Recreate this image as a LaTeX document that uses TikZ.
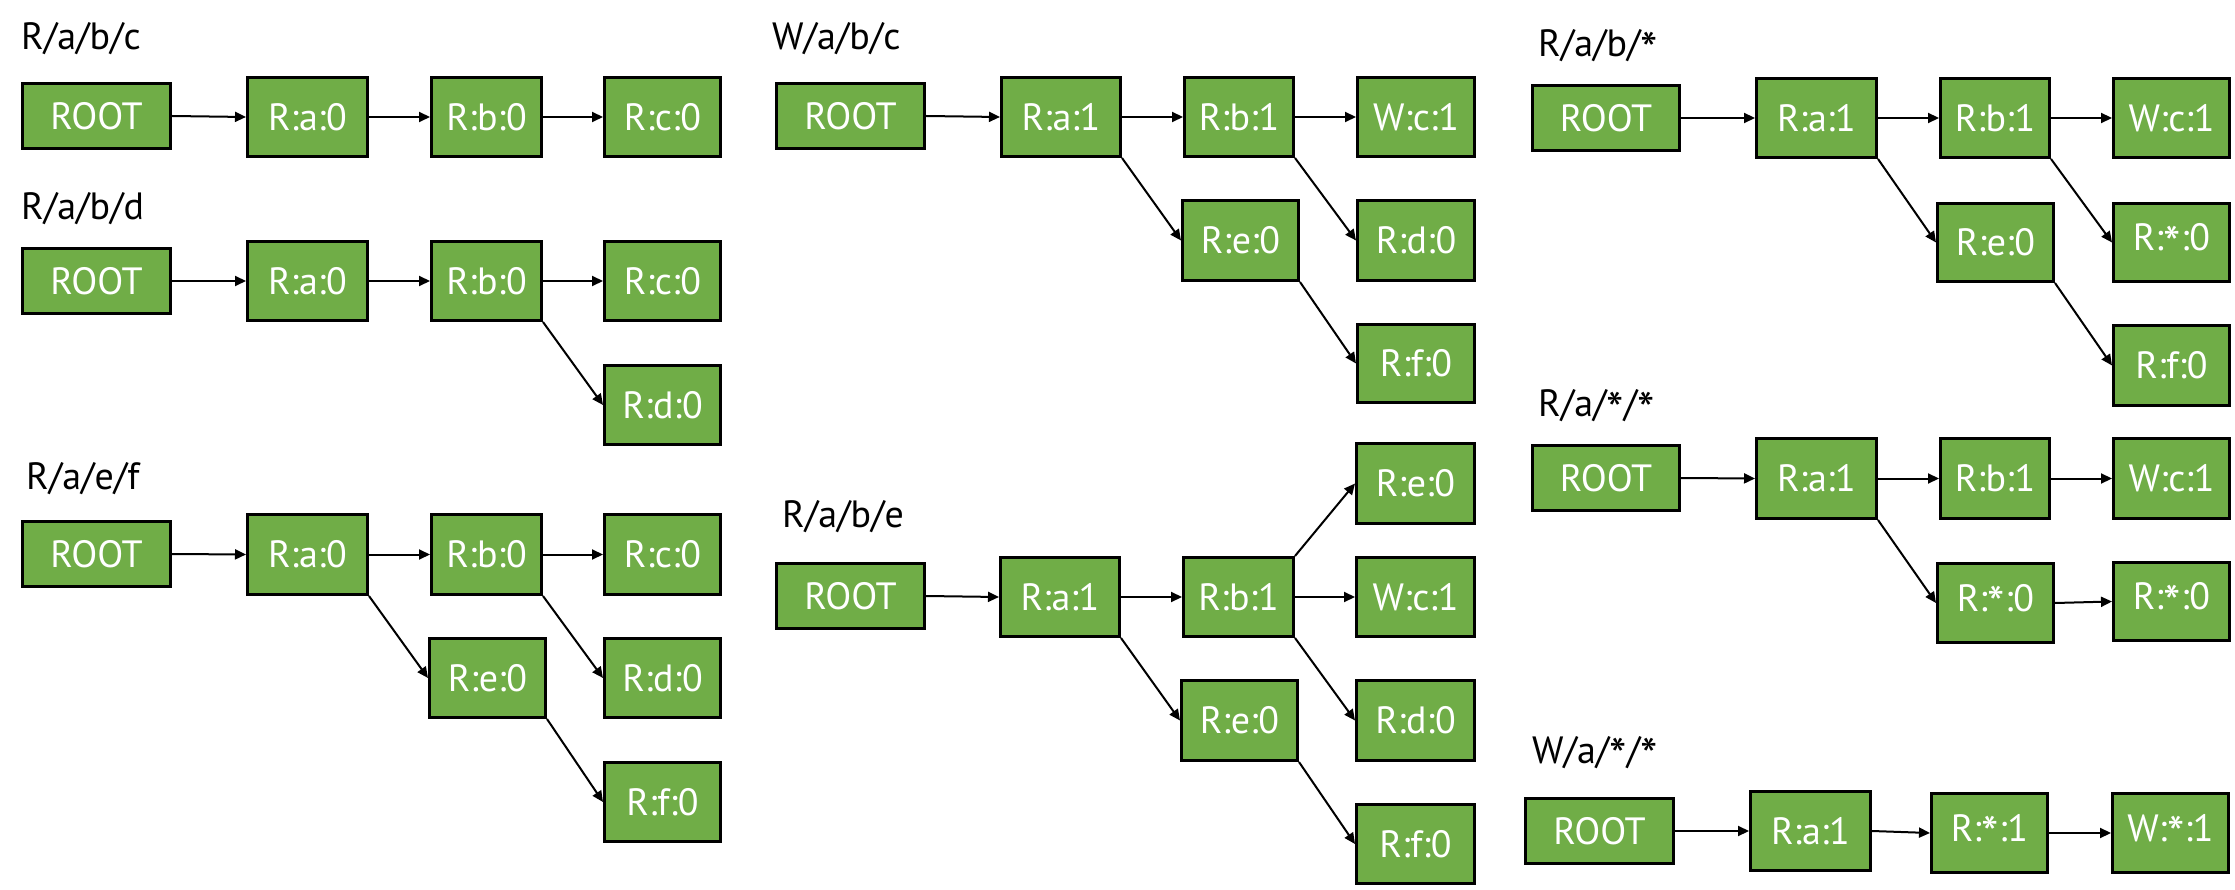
\documentclass[tikz,border=0pt]{standalone}
\usepackage{fontspec}
\setmainfont{PT Sans}
\usetikzlibrary{arrows.meta}
\definecolor{boxgreen}{RGB}{112,173,71}
\newcommand\stx{\raisebox{-0.28em}{\scalebox{1.3}{*}}}
\tikzset{
  box/.style={draw=black, line width=3pt, fill=boxgreen, text=white, inner sep=0pt,
    font=\fontsize{38}{40}\selectfont},
  lbl/.style={anchor=base west, inner sep=0pt, text=black, font=\fontsize{38}{40}\selectfont},
  arr/.style={line width=2pt, -{Triangle[length=11pt,width=10pt]}}
}
\newcommand\bx[6]{\node[box,minimum width={#4-#2-3},minimum height={#5-#3-3}] (#1) at ({(#2+#4)/2},{(#3+#5)/2}) {#6};}
\begin{document}
\begin{tikzpicture}[x=1pt,y=-1pt]
\useasboundingbox (0,0) rectangle (2235,890);
% Panel 1
\node[lbl] (l1) at (21,50) {R/a/b/c};
\bx{p1root}{21}{82}{172}{150}{ROOT}
\bx{p1a}{246}{76}{369}{158}{R:a:0}
\bx{p1b}{430}{76}{543}{158}{R:b:0}
\bx{p1c}{603}{76}{722}{158}{R:c:0}
\draw[arr] (p1root.east) -- (p1a.west);
\draw[arr] (p1a.east) -- (p1b.west);
\draw[arr] (p1b.east) -- (p1c.west);
% Panel 2
\node[lbl] (l2) at (21,220) {R/a/b/d};
\bx{p2root}{21}{247}{172}{315}{ROOT}
\bx{p2a}{246}{240}{369}{322}{R:a:0}
\bx{p2b}{430}{240}{543}{322}{R:b:0}
\bx{p2c}{603}{240}{722}{322}{R:c:0}
\bx{p2d}{603}{364}{722}{446}{R:d:0}
\draw[arr] (p2root.east) -- (p2a.west);
\draw[arr] (p2a.east) -- (p2b.west);
\draw[arr] (p2b.east) -- (p2c.west);
\draw[arr] (p2b.south east) -- (p2d.west);
% Panel 3
\node[lbl] (l3) at (26,489) {R/a/e/f};
\bx{p3root}{21}{520}{172}{588}{ROOT}
\bx{p3a}{246}{513}{369}{596}{R:a:0}
\bx{p3b}{430}{513}{543}{596}{R:b:0}
\bx{p3c}{603}{513}{722}{596}{R:c:0}
\bx{p3e}{428}{637}{547}{719}{R:e:0}
\bx{p3d}{603}{637}{722}{719}{R:d:0}
\bx{p3f}{603}{761}{722}{843}{R:f:0}
\draw[arr] (p3root.east) -- (p3a.west);
\draw[arr] (p3a.east) -- (p3b.west);
\draw[arr] (p3b.east) -- (p3c.west);
\draw[arr] (p3a.south east) -- (p3e.west);
\draw[arr] (p3b.south east) -- (p3d.west);
\draw[arr] (p3e.south east) -- (p3f.west);
% Panel 4
\node[lbl] (l4) at (772,50) {W/a/b/c};
\bx{p4root}{775}{82}{926}{150}{ROOT}
\bx{p4a}{1000}{76}{1122}{158}{R:a:1}
\bx{p4b}{1183}{76}{1295}{158}{R:b:1}
\bx{p4c}{1356}{76}{1476}{158}{W:c:1}
\bx{p4e}{1181}{199}{1300}{282}{R:e:0}
\bx{p4d}{1356}{199}{1476}{282}{R:d:0}
\bx{p4f}{1356}{323}{1476}{404}{R:f:0}
\draw[arr] (p4root.east) -- (p4a.west);
\draw[arr] (p4a.east) -- (p4b.west);
\draw[arr] (p4b.east) -- (p4c.west);
\draw[arr] (p4a.south east) -- (p4e.west);
\draw[arr] (p4b.south east) -- (p4d.west);
\draw[arr] (p4e.south east) -- (p4f.west);
% Panel 5
\node[lbl] (l5) at (782,527) {R/a/b/e};
\bx{p5root}{775}{562}{926}{630}{ROOT}
\bx{p5a}{999}{556}{1121}{638}{R:a:1}
\bx{p5b}{1182}{556}{1295}{638}{R:b:1}
\bx{p5et}{1355}{442}{1476}{525}{R:e:0}
\bx{p5c}{1355}{556}{1476}{638}{W:c:1}
\bx{p5e}{1180}{679}{1299}{762}{R:e:0}
\bx{p5d}{1355}{679}{1476}{762}{R:d:0}
\bx{p5f}{1355}{803}{1476}{885}{R:f:0}
\draw[arr] (p5root.east) -- (p5a.west);
\draw[arr] (p5a.east) -- (p5b.west);
\draw[arr] (p5b.east) -- (p5c.west);
\draw[arr] (p5b.north east) -- (p5et.west);
\draw[arr] (p5a.south east) -- (p5e.west);
\draw[arr] (p5b.south east) -- (p5d.west);
\draw[arr] (p5e.south east) -- (p5f.west);
% Panel 6
\node[lbl] (l6) at (1538,57) {R/a/b/\stx};
\bx{p6root}{1531}{84}{1681}{152}{ROOT}
\bx{p6a}{1755}{77}{1878}{159}{R:a:1}
\bx{p6b}{1939}{77}{2051}{159}{R:b:1}
\bx{p6c}{2112}{77}{2231}{159}{W:c:1}
\bx{p6e}{1936}{202}{2055}{283}{R:e:0}
\bx{p6s}{2112}{202}{2231}{283}{R:\stx:0}
\bx{p6f}{2112}{324}{2231}{407}{R:f:0}
\draw[arr] (p6root.east) -- (p6a.west);
\draw[arr] (p6a.east) -- (p6b.west);
\draw[arr] (p6b.east) -- (p6c.west);
\draw[arr] (p6a.south east) -- (p6e.west);
\draw[arr] (p6b.south east) -- (p6s.west);
\draw[arr] (p6e.south east) -- (p6f.west);
% Panel 7
\node[lbl] (l7) at (1538,417) {R/a/\stx/\stx};
\bx{p7root}{1531}{444}{1681}{512}{ROOT}
\bx{p7a}{1755}{437}{1878}{520}{R:a:1}
\bx{p7b}{1939}{437}{2051}{520}{R:b:1}
\bx{p7c}{2112}{437}{2231}{520}{W:c:1}
\bx{p7s}{1936}{562}{2055}{644}{R:\stx:0}
\bx{p7t}{2112}{561}{2231}{642}{R:\stx:0}
\draw[arr] (p7root.east) -- (p7a.west);
\draw[arr] (p7a.east) -- (p7b.west);
\draw[arr] (p7b.east) -- (p7c.west);
\draw[arr] (p7a.south east) -- (p7s.west);
\draw[arr] (p7s.east) -- (p7t.west);
% Panel 8
\node[lbl] (l8) at (1532,763) {W/a/\stx/\stx};
\bx{p8root}{1524}{797}{1675}{865}{ROOT}
\bx{p8a}{1749}{790}{1872}{872}{R:a:1}
\bx{p8s}{1930}{792}{2049}{874}{R:\stx:1}
\bx{p8w}{2111}{792}{2230}{874}{W:\stx:1}
\draw[arr] (p8root.east) -- (p8a.west);
\draw[arr] (p8a.east) -- (p8s.west);
\draw[arr] (p8s.east) -- (p8w.west);
\end{tikzpicture}
\end{document}
